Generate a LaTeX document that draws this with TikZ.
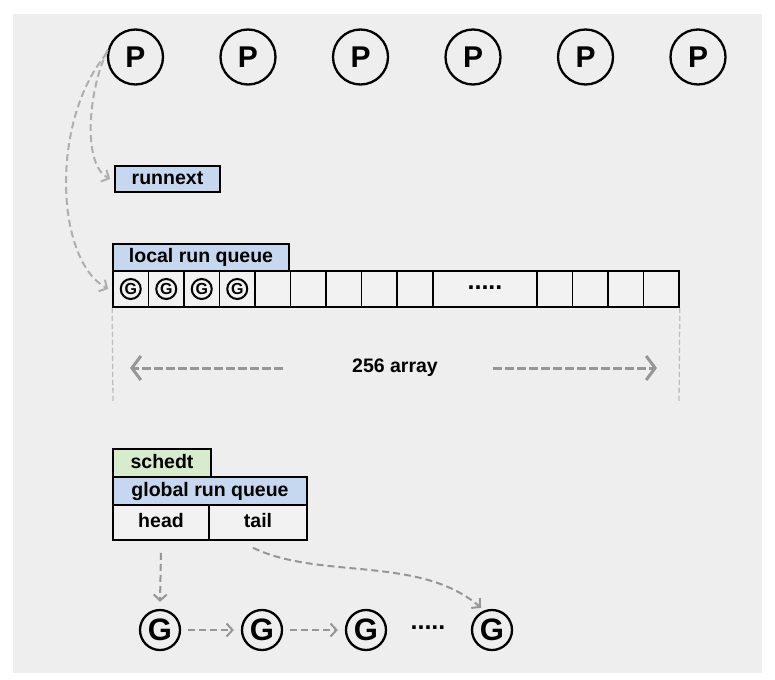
\documentclass[tikz,border=0pt]{standalone}
\usepackage{fontspec}
\setmainfont{Liberation Sans}
\usetikzlibrary{arrows.meta}
\definecolor{bgc}{RGB}{238,238,238}
\definecolor{cellc}{RGB}{242,242,242}
\definecolor{bluec}{RGB}{198,216,240}
\definecolor{greenc}{RGB}{214,236,205}
\definecolor{dashc}{RGB}{150,150,150}
\definecolor{lightdash}{RGB}{175,175,175}
\definecolor{guidec}{RGB}{190,190,190}
\begin{document}
\begin{tikzpicture}[x=1pt,y=-1pt,
 lbl/.style={font=\fontsize{19.5}{22}\selectfont\bfseries},
 pnode/.style={circle,draw,line width=2.3pt,minimum size=55pt,inner sep=0pt,font=\fontsize{30}{30}\selectfont\bfseries},
 gbig/.style={circle,draw,line width=2.3pt,minimum size=40pt,inner sep=0pt,font=\fontsize{31}{31}\selectfont\bfseries},
 gsmall/.style={circle,draw,line width=2pt,minimum size=20pt,inner sep=0pt,font=\fontsize{16}{16}\selectfont\bfseries},
 boxb/.style={draw,line width=1.6pt,inner sep=0pt,lbl,text height=14pt,text depth=4pt},
 cellb/.style={draw,line width=1.6pt,fill=cellc,minimum height=36pt,inner sep=0pt},
 dotsn/.style={font=\fontsize{25}{25}\selectfont\bfseries,inner sep=0pt},
 flow/.style={dashc,line width=2pt,dash pattern=on 7pt off 4pt,-{Straight Barb[length=6pt,width=13pt,line width=2pt]}},
 bigflow/.style={dashc,line width=3pt,dash pattern=on 9pt off 3pt,-{Straight Barb[length=9pt,width=24pt,line width=3pt]}},
 guide/.style={guidec,line width=1.3pt,dash pattern=on 5pt off 3pt}
]
\useasboundingbox (0,0) rectangle (775,679);
\fill[white] (0,0) rectangle (775,679);
\fill[bgc] (13,14) rectangle (762,673);

% P nodes
\foreach \x [count=\i] in {135.5,248,360.5,473,585.5,698}
  \node[pnode] (p\i) at (\x,57) {P};

% runnext
\node[boxb,fill=bluec,minimum width=105pt,minimum height=26pt] (rn) at (167.5,179) {runnext};

% local run queue
\node[boxb,fill=bluec,minimum width=176pt,minimum height=27pt] (lrq) at (201,257.5) {local run queue};
\foreach \l/\r [count=\i] in {113/148.5,148.5/184,184/219.5,219.5/255,255/290.5,290.5/326,326/361.5,361.5/397,397/433,433/537,537/572.5,572.5/608,608/643.5,643.5/679}
  \node[cellb,minimum width={\r-\l}] (c\i) at ({(\l+\r)/2},289) {};
\foreach \i in {1,2,3,4}
  \node[gsmall] (sg\i) at (c\i) {G};
\node[dotsn] (qd) at ([yshift=1.5pt]c10.center) {.....};

% guides and 256 array
\coordinate (gl) at (113,402);
\coordinate (gr) at (679,402);
\draw[guide] (c1.south west) -- (gl);
\draw[guide] (c14.south east) -- (gr);
\node[lbl] (arr) at (395,368) {256 array};
\coordinate (al0) at (283,368);
\coordinate (al1) at (130,368);
\coordinate (ar0) at (493,368);
\coordinate (ar1) at (657,368);
\draw[bigflow] (al0) -- (al1);
\draw[bigflow] (ar0) -- (ar1);

% P1 curves
\draw[flow,lightdash] (p1.165) .. controls (88,90) and (82,165) .. ([xshift=-4pt]rn.west);
\draw[flow,lightdash] (p1.172) .. controls (50,120) and (55,260) .. ([xshift=-4pt]c1.west);

% schedt / global run queue
\node[boxb,fill=greenc,minimum width=98pt,minimum height=28pt] (sch) at (162,463) {schedt};
\node[boxb,fill=bluec,minimum width=194pt,minimum height=28pt] (grq) at (210,491) {global run queue};
\node[boxb,fill=cellc,minimum width=96pt,minimum height=35pt] (head) at (161,522.5) {head};
\node[boxb,fill=cellc,minimum width=98pt,minimum height=35pt] (tail) at (258,522.5) {tail};

% G list
\node[gbig] (g1) at (160,630) {G};
\node[gbig] (g2) at (262,630) {G};
\node[gbig] (g3) at (366,630) {G};
\node[gbig] (g4) at (492,630) {G};
\node[dotsn] (ld) at (428,628) {.....};

\draw[flow,shorten <=7pt,shorten >=7pt] (g1) -- (g2);
\draw[flow,shorten <=7pt,shorten >=7pt] (g2) -- (g3);
\draw[flow] ([yshift=-12pt]head.south) -- ([yshift=7pt]g1.north);
\draw[flow] ([xshift=-5pt,yshift=-7pt]tail.south) .. controls (320,580) and (420,555) .. ([shift={(-2pt,3pt)}]g4.115);
\end{tikzpicture}
\end{document}
